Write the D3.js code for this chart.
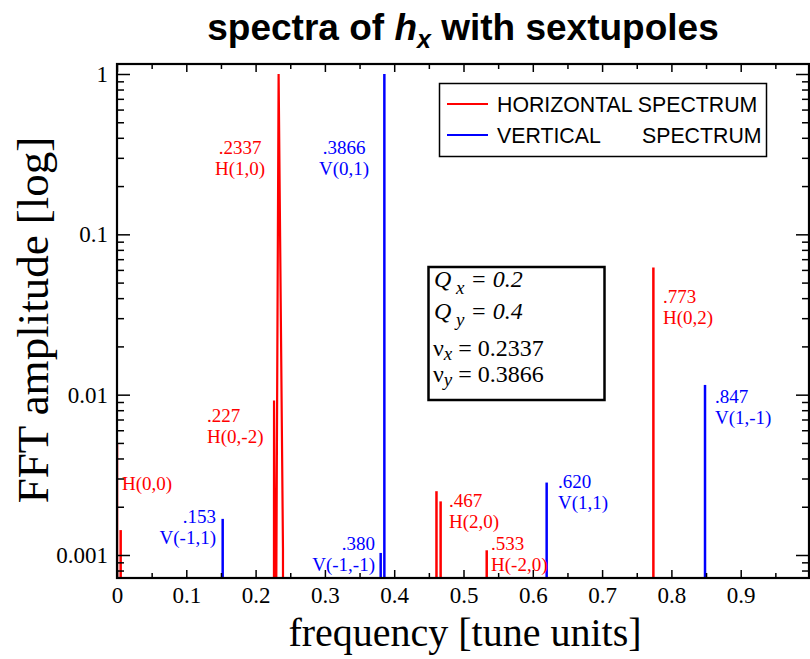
<!DOCTYPE html>
<html><head><meta charset="utf-8">
<script src="https://cdn.jsdelivr.net/npm/d3@7/dist/d3.min.js"></script>
<style>
html,body{margin:0;padding:0;background:#fff;}
svg{display:block;}
</style></head>
<body>
<svg id="chart" width="810" height="659"></svg>
<script>
// ---------- data ----------
const xTickValues = [0,0.1,0.2,0.3,0.4,0.5,0.6,0.7,0.8,0.9,1];
const xTickLabels = ["0","0.1","0.2","0.3","0.4","0.5","0.6","0.7","0.8","0.9",""];
const xMinorValues = [0.05,0.15,0.25,0.35,0.45,0.55,0.65,0.75,0.85,0.95];
const yTickValues = [0.001,0.01,0.1,1];
const yTickLabels = ["0.001","0.01","0.1","1"];

// horizontal spectrum: isolated spikes
const hSpikeFreq = [0.0, 0.0053, 0.461, 0.467, 0.5335, 0.774];
const hSpikeAmp  = [0.005, 0.00143, 0.0025, 0.00216, 0.00107, 0.062];
// horizontal spectrum: main peak cluster (connected line)
const hPeakFreq = [0.2264, 0.2266, 0.2290, 0.2332, 0.2395, 0.2397];
const hPeakAmp  = [0.0001, 0.0092, 0.0001, 1.0, 0.0011, 0.0001];
// vertical spectrum spikes
const vSpikeFreq = [0.1525, 0.3805, 0.3858, 0.620, 0.8485];
const vSpikeAmp  = [0.00168, 0.00103, 1.0, 0.00283, 0.0115];

// peak labels (anchor in data coords: freq, amp of first-line baseline)
const labelLines  = [[".2337","H(1,0)"],[".3866","V(0,1)"],[".227","H(0,-2)"],[".153","V(-1,1)"],
                     ["H(0,0)"],[".380","V(-1,-1)"],[".467","H(2,0)"],[".533","H(-2,0)"],
                     [".620","V(1,1)"],[".773","H(0,2)"],[".847","V(1,-1)"]];
const labelSeries = ["H","V","H","V","H","V","H","H","V","H","V"];
const labelFreq   = [0.1775,0.3276,0.1299,0.1429,0.0072,0.3723,0.4791,0.5397,0.6364,0.7879,0.8629];
const labelAmp    = [0.317,0.317,0.00675,0.00158,0.00254,0.00107,0.00199,0.00107,0.00262,0.0373,0.00887];
const labelAnchor = ["middle","middle","start","end","start","end","start","start","start","start","start"];

const legendLabels = ["HORIZONTAL SPECTRUM", "VERTICAL"];
const colors = {H:"#ff0000", V:"#0000ff"};

// ---------- layout ----------
const svg = d3.select("#chart");
const L = 117, R = 810, T = 64, B = 578;
const x = d3.scaleLinear().domain([0,1]).range([L,R]);
const y = d3.scaleLog().domain([0.001,1]).range([555,74]);
const yLo = y.invert(B), yHi = y.invert(T);
const serif = "'Liberation Serif','Times New Roman',serif";
const sans = "'Liberation Sans',Arial,Helvetica,sans-serif";

// title
const title = svg.append("text").attr("x",463).attr("y",40).attr("text-anchor","middle")
  .attr("font-family",sans).attr("font-weight","bold").attr("font-size",37).attr("fill","#000");
title.append("tspan").text("spectra of ");
title.append("tspan").attr("font-style","italic").text("h");
title.append("tspan").attr("font-style","italic").attr("font-size",25).attr("dy",8).text("x");
title.append("tspan").attr("dy",-8).text(" with sextupoles");

// clip
svg.append("clipPath").attr("id","clip").append("rect")
  .attr("x",L).attr("y",T).attr("width",R-L).attr("height",B-T);
const plot = svg.append("g").attr("clip-path","url(#clip)");
const line = d3.line().x(d=>x(d[0])).y(d=>y(d[1]));

function spikes(freqs, amps, color){
  freqs.forEach((f,i)=>{
    plot.append("path").attr("d", line([[f,yLo*0.5],[f,amps[i]]]))
      .attr("stroke",color).attr("stroke-width",2.5).attr("fill","none");
  });
}
spikes(hSpikeFreq,hSpikeAmp,colors.H);
plot.append("path").attr("d", line(hPeakFreq.map((f,i)=>[f,hPeakAmp[i]])))
  .attr("stroke",colors.H).attr("stroke-width",2.2).attr("fill","none").attr("stroke-linejoin","miter");
spikes(vSpikeFreq,vSpikeAmp,colors.V);

// axes
function styleAxis(g){ g.select(".domain").remove(); g.selectAll("line").attr("stroke","#000").attr("stroke-width",1.5); }
const yMinor = [];
[0.0001,0.001,0.01,0.1,1].forEach(dec=>{ for(let k=2;k<=9;k++){ const v=dec*k; if(v>=yLo && v<=yHi) yMinor.push(v);} });

svg.append("g").attr("transform",`translate(0,${B})`)
  .call(d3.axisBottom(x).tickValues(xTickValues).tickSize(-8).tickPadding(9).tickFormat((d,i)=>xTickLabels[i]))
  .call(styleAxis).call(g=>g.selectAll("text").attr("font-family",serif).attr("font-size",23).attr("fill","#000"));
svg.append("g").attr("transform",`translate(0,${B})`)
  .call(d3.axisBottom(x).tickValues(xMinorValues).tickSize(-5).tickFormat(""))
  .call(styleAxis);
svg.append("g").attr("transform",`translate(0,${T})`)
  .call(d3.axisTop(x).tickValues(xTickValues).tickSize(-8).tickFormat(""))
  .call(styleAxis);
svg.append("g").attr("transform",`translate(0,${T})`)
  .call(d3.axisTop(x).tickValues(xMinorValues).tickSize(-5).tickFormat(""))
  .call(styleAxis);
svg.append("g").attr("transform",`translate(${L},0)`)
  .call(d3.axisLeft(y).tickValues(yTickValues).tickSize(-13).tickPadding(9).tickFormat((d,i)=>yTickLabels[i]))
  .call(styleAxis).call(g=>g.selectAll("text").attr("font-family",serif).attr("font-size",23).attr("fill","#000"));
svg.append("g").attr("transform",`translate(${L},0)`)
  .call(d3.axisLeft(y).tickValues(yMinor).tickSize(-7).tickFormat(""))
  .call(styleAxis);
svg.append("g").attr("transform",`translate(${R-1},0)`)
  .call(d3.axisRight(y).tickValues(yTickValues).tickSize(-13).tickFormat(""))
  .call(styleAxis);
svg.append("g").attr("transform",`translate(${R-1},0)`)
  .call(d3.axisRight(y).tickValues(yMinor).tickSize(-7).tickFormat(""))
  .call(styleAxis);

// frame
svg.append("rect").attr("x",L).attr("y",T).attr("width",R-L-1).attr("height",B-T)
  .attr("fill","none").attr("stroke","#000").attr("stroke-width",2.2);

// axis titles
svg.append("text").attr("x",465).attr("y",646).attr("text-anchor","middle")
  .attr("font-family",serif).attr("font-size",40).attr("fill","#000").text("frequency [tune units]");
svg.append("text").attr("transform","translate(48,320) rotate(-90)").attr("text-anchor","middle")
  .attr("font-family",serif).attr("font-size",45).attr("fill","#000").text("FFT amplitude [log]");

// peak labels
labelLines.forEach((lines,i)=>{
  const t = svg.append("text").attr("font-family",serif).attr("font-size",19)
    .attr("fill",colors[labelSeries[i]]).attr("text-anchor",labelAnchor[i]);
  lines.forEach((s,j)=>{
    t.append("tspan").attr("x",x(labelFreq[i])).attr("y",y(labelAmp[i])+j*21).text(s);
  });
});

// legend
const lg = svg.append("g");
lg.append("rect").attr("x",439.5).attr("y",83.5).attr("width",327).attr("height",73)
  .attr("fill","#fff").attr("stroke","#000").attr("stroke-width",1.5);
[["H",104],["V",135]].forEach(([k,yy],i)=>{
  lg.append("line").attr("x1",447).attr("x2",488).attr("y1",yy).attr("y2",yy)
    .attr("stroke",colors[k]).attr("stroke-width",2);
  lg.append("text").attr("x",497).attr("y",yy+8).attr("font-family",sans).attr("font-size",21.3)
    .attr("fill","#000").text(legendLabels[i]);
});
lg.append("text").attr("x",642).attr("y",143).attr("font-family",sans).attr("font-size",21.3)
  .attr("fill","#000").text("SPECTRUM");

// parameter box
const pb = svg.append("g");
pb.append("rect").attr("x",428.5).attr("y",267).attr("width",176).attr("height",133)
  .attr("fill","#fff").attr("stroke","#000").attr("stroke-width",2.5);
function qLine(yy, sub, val){
  const t = pb.append("text").attr("x",434).attr("y",yy).attr("font-family",serif)
    .attr("font-size",24).attr("font-style","italic").attr("fill","#000");
  t.append("tspan").text("Q");
  t.append("tspan").attr("dy",7).attr("font-size",19).text(" "+sub);
  t.append("tspan").attr("dy",-7).text(" = "+val);
}
qLine(287,"x","0.2");
qLine(319,"y","0.4");
function nuLine(yy, sub, val){
  const t = pb.append("text").attr("x",433).attr("y",yy).attr("font-family",serif)
    .attr("font-size",24).attr("fill","#000");
  t.append("tspan").text("ν");
  t.append("tspan").attr("dy",4).attr("font-size",19).attr("font-style","italic").text(sub);
  t.append("tspan").attr("dy",-4).text(" = "+val);
}
nuLine(356,"x","0.2337");
nuLine(382,"y","0.3866");
</script>
</body></html>
